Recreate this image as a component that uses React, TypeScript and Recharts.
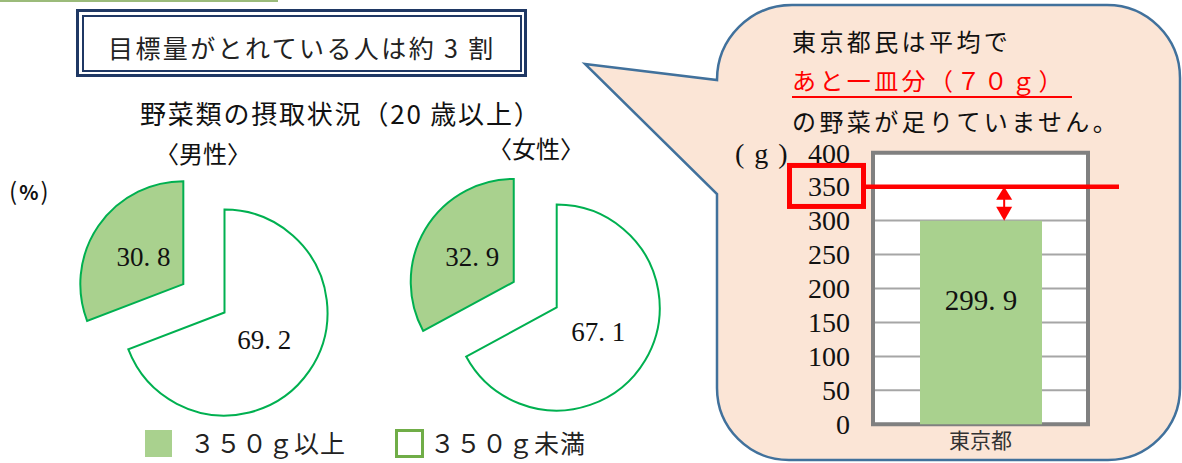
import React from 'react'
import {
  PieChart,
  Pie,
  Cell,
  BarChart,
  Bar,
  XAxis,
  YAxis,
  CartesianGrid,
  ReferenceLine,
  ReferenceArea,
  LabelList,
} from 'recharts'

const JP = '"Noto Sans CJK JP", "Noto Sans", sans-serif'
const SERIF = '"Liberation Serif", "DejaVu Serif", "Noto Sans CJK JP", serif'

// pie: share of people under / over 350 g a day (%)
const pieGroups = ['〈男性〉', '〈女性〉']
const underShares = [69.2, 67.1]
const overShares = [30.8, 32.9]
const legendLabels = ['３５０ｇ以上', '３５０ｇ未満']

// bar: average intake in Tokyo (g)
const barCategories = ['東京都']
const barValues = [299.9]
const targetValue = 350
const yTicks = [0, 50, 100, 150, 200, 250, 300, 350, 400]

const GREEN_FILL = '#a9d18e'
const GREEN_LINE = '#00b050'
const RED = '#ff0000'
const RAD = Math.PI / 180
const EXPLODE = 50
const PIE_R = 103

// pie centres (layout only)
const pieCenters = [
  { cx: 224.5, cy: 312.5, headX: 155, headY: 153 },
  { cx: 556.7, cy: 307.5, headX: 488, headY: 148 },
]

const fmt = (v: number) => v.toFixed(1).replace('.', '. ')

const makePieLabel = (show: number) => (p: any) => {
  if (p.index !== show) return null
  const r = p.outerRadius * 0.47
  const a = -p.midAngle * RAD
  return (
    <text
      x={p.cx + r * Math.cos(a)}
      y={p.cy + r * Math.sin(a)}
      textAnchor="middle"
      dominantBaseline="central"
      fontFamily={SERIF}
      fontSize={27}
      fill="#111"
    >
      {fmt(p.value)}
    </text>
  )
}

function Txt({ x, cy, size, children, style }: any) {
  return (
    <div
      style={{
        position: 'absolute',
        left: x,
        top: cy - size * 0.75,
        fontSize: size,
        lineHeight: `${size * 1.5}px`,
        whiteSpace: 'nowrap',
        color: '#111',
        ...style,
      }}
    >
      {children}
    </div>
  )
}

const YTick = (p: any) => {
  const { x, y, payload } = p
  return (
    <g>
      {payload.value === targetValue && (
        <rect x={x - 60.5} y={y - 21.2} width={74} height={41} fill="none" stroke={RED} strokeWidth={5} />
      )}
      <text x={x} y={y} dy="0.35em" textAnchor="end" fontFamily={SERIF} fontSize={28} fill="#111">
        {payload.value}
      </text>
    </g>
  )
}

const XTick = (p: any) => (
  <text x={p.x} y={p.y} dy={16} textAnchor="middle" fontFamily={JP} fontSize={21} fill="#333">
    {p.payload.value}
  </text>
)

const boxOf = (p: any) => {
  const vb = p.viewBox ?? p
  return { x: vb.x ?? p.x, y: vb.y ?? p.y, width: vb.width ?? p.width, height: vb.height ?? p.height }
}

const ValueLabel = (p: any) => {
  const { x, y, width, height } = boxOf(p)
  return (
    <text
      x={x + width / 2}
      y={y + height * 0.39}
      dy="0.35em"
      textAnchor="middle"
      fontFamily={SERIF}
      fontSize={29}
      fill="#111"
    >
      {fmt(Number(p.value))}
    </text>
  )
}

const GapArrow = (p: any) => {
  const { x, y, width, height } = boxOf(p)
  const v = Number(p.value)
  const ax = x + width * 0.69
  const yTop = y + height - (targetValue * height) / v
  const yBot = y
  return (
    <g>
      <line x1={ax} x2={ax} y1={yTop + 10} y2={yBot - 10} stroke={RED} strokeWidth={2} />
      <polygon points={`${ax},${yTop} ${ax - 8},${yTop + 13} ${ax + 8},${yTop + 13}`} fill={RED} />
      <polygon points={`${ax},${yBot} ${ax - 8},${yBot - 14} ${ax + 8},${yBot - 14}`} fill={RED} />
    </g>
  )
}

export default function App() {
  const pieSets = pieGroups.map((g, i) => {
    const data = [
      { name: legendLabels[1], value: underShares[i] },
      { name: legendLabels[0], value: overShares[i] },
    ]
    const total = underShares[i] + overShares[i]
    const mid = 90 - (360 * (underShares[i] + overShares[i] / 2)) / total
    const c = pieCenters[i]
    return {
      g,
      data,
      ...c,
      gx: c.cx + EXPLODE * Math.cos(mid * RAD),
      gy: c.cy - EXPLODE * Math.sin(mid * RAD),
    }
  })

  const barData = barCategories.map((name, i) => ({ name, value: barValues[i] }))

  return (
    <div
      style={{
        position: 'absolute',
        left: 0,
        top: 0,
        width: 1182,
        height: 463,
        background: '#fff',
        overflow: 'hidden',
        fontFamily: JP,
      }}
    >
      {/* thin green rule at the top */}
      <div style={{ position: 'absolute', left: 0, top: 0, width: 278, height: 2, background: '#9bbb7a' }} />

      {/* title box, double border */}
      <div
        style={{
          position: 'absolute',
          left: 76,
          top: 9,
          width: 451,
          height: 68,
          border: '3px solid #1f3864',
          boxSizing: 'border-box',
        }}
      />
      <div
        style={{
          position: 'absolute',
          left: 81.5,
          top: 14.5,
          width: 440,
          height: 57,
          border: '2px solid #1f3864',
          boxSizing: 'border-box',
        }}
      />
      <Txt x={108} cy={47.5} size={25} style={{ letterSpacing: 2.4, color: '#222' }}>
        目標量がとれている人は約 3 割
      </Txt>

      <Txt x={140} cy={112} size={26} style={{ letterSpacing: 1.8 }}>
        野菜類の摂取状況（20 歳以上）
      </Txt>
      {pieSets.map((s) => (
        <Txt key={s.g} x={s.headX} cy={s.headY} size={24}>
          {s.g}
        </Txt>
      ))}
      <Txt x={9} cy={190} size={24} style={{ letterSpacing: 2 }}>
        (<b style={{ fontSize: 20 }}>%</b>)
      </Txt>

      <PieChart
        width={700}
        height={463}
        margin={{ top: 0, right: 0, bottom: 0, left: 0 }}
        style={{ position: 'absolute', left: 0, top: 0 }}
      >
        {pieSets.map((s) => [
          <Pie
            key={s.g + '-under'}
            data={s.data}
            dataKey="value"
            cx={s.cx}
            cy={s.cy}
            outerRadius={PIE_R}
            startAngle={90}
            endAngle={-270}
            labelLine={false}
            label={makePieLabel(0)}
            isAnimationActive={false}
          >
            <Cell fill="#fff" stroke={GREEN_LINE} strokeWidth={2} />
            <Cell fill="none" stroke="none" />
          </Pie>,
          <Pie
            key={s.g + '-over'}
            data={s.data}
            dataKey="value"
            cx={s.gx}
            cy={s.gy}
            outerRadius={PIE_R}
            startAngle={90}
            endAngle={-270}
            labelLine={false}
            label={makePieLabel(1)}
            isAnimationActive={false}
          >
            <Cell fill="none" stroke="none" />
            <Cell fill={GREEN_FILL} stroke={GREEN_LINE} strokeWidth={2} />
          </Pie>,
        ])}
      </PieChart>

      {/* legend */}
      <div style={{ position: 'absolute', left: 145, top: 430, width: 27, height: 27, background: GREEN_FILL }} />
      <Txt x={190} cy={443} size={25} style={{ color: '#222', letterSpacing: 1 }}>
        {legendLabels[0]}
      </Txt>
      <div
        style={{
          position: 'absolute',
          left: 395,
          top: 429,
          width: 29,
          height: 29,
          border: '3px solid #70ad47',
          boxSizing: 'border-box',
          background: '#fff',
        }}
      />
      <Txt x={430} cy={443} size={25} style={{ color: '#222', letterSpacing: 1 }}>
        {legendLabels[1]}
      </Txt>

      {/* speech bubble */}
      <svg width={1182} height={463} style={{ position: 'absolute', left: 0, top: 0 }}>
        <path
          d="M 585 64 L 717 80 A 75 75 0 0 1 792 5 L 1107 5 A 73 73 0 0 1 1180 78 L 1180 388 A 72 72 0 0 1 1108 460 L 789 460 A 72 72 0 0 1 717 388 L 717 194 Z"
          fill="#fbe5d6"
          stroke="#41719c"
          strokeWidth={2.5}
        />
      </svg>
      <Txt x={792} cy={41} size={24} style={{ letterSpacing: 3.4 }}>
        東京都民は平均で
      </Txt>
      <Txt x={792} cy={80} size={24} style={{ letterSpacing: 3.4, color: RED }}>
        あと一皿分（７０ｇ）
      </Txt>
      <div style={{ position: 'absolute', left: 792, top: 95.5, width: 280, height: 2.5, background: RED }} />
      <Txt x={792} cy={121} size={24} style={{ letterSpacing: 3.4 }}>
        の野菜が足りていません。
      </Txt>

      <BarChart
        width={420}
        height={333}
        data={barData}
        margin={{ top: 22.7, right: 32, bottom: 8, left: 0 }}
        style={{ position: 'absolute', left: 700, top: 130, overflow: 'visible' }}
      >
        <CartesianGrid horizontal vertical={false} stroke="#a6a6a6" strokeWidth={2} fill="#fff" />
        <XAxis dataKey="name" axisLine={false} tickLine={false} height={30.7} tick={<XTick />} />
        <YAxis
          type="number"
          domain={[0, 400]}
          ticks={yTicks}
          interval={0}
          width={173}
          axisLine={false}
          tickLine={false}
          tickMargin={17}
          tick={<YTick />}
          label={{
            content: (p: any) => (
              <text
                x={p.viewBox.x + 35}
                y={p.viewBox.y}
                dy="0.35em"
                fontFamily={SERIF}
                fontSize={28}
                fill="#111"
                style={{ letterSpacing: 1.5 }}
              >
                ( g )
              </text>
            ),
          }}
        />
        <ReferenceArea y1={0} y2={400} fill="none" stroke="#808080" strokeWidth={4} ifOverflow="visible" />
        <Bar dataKey="value" fill={GREEN_FILL} barSize={122} isAnimationActive={false}>
          <LabelList dataKey="value" content={ValueLabel} />
          <LabelList dataKey="value" content={GapArrow} />
        </Bar>
        <ReferenceLine
          y={targetValue}
          ifOverflow="visible"
          stroke={RED}
          strokeWidth={4.5}
          shape={(p: any) => (
            <line x1={p.x1 - 7} y1={p.y1} x2={p.x2 + 31} y2={p.y2} stroke={RED} strokeWidth={4.5} />
          )}
        />
      </BarChart>
    </div>
  )
}
